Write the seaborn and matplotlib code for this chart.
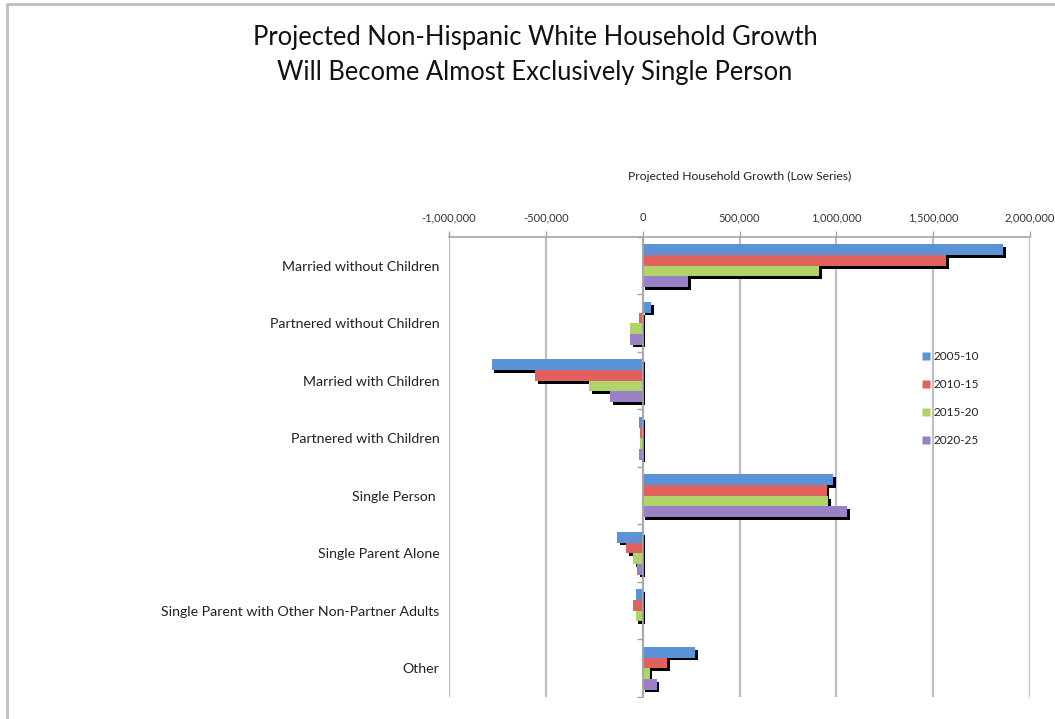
import matplotlib
matplotlib.use("Agg")
import matplotlib.pyplot as plt
import matplotlib.patheffects as pe
from matplotlib.ticker import FuncFormatter, FixedLocator
from matplotlib.lines import Line2D
import numpy as np
import pandas as pd
import seaborn as sns

# Household types (category axis, top to bottom)
categories = [
    "Married without Children",
    "Partnered without Children",
    "Married with Children",
    "Partnered with Children",
    "Single Person ",
    "Single Parent Alone",
    "Single Parent with Other Non-Partner Adults",
    "Other",
]

periods = ["2005-10", "2010-15", "2015-20", "2020-25"]

# Projected household growth by period (low series)
growth_2005_10 = [1860000, 45000, -780000, -20000, 985000, -130000, -36000, 270000]
growth_2010_15 = [1567000, -18000, -557000, -16000, 950000, -87000, -50000, 125000]
growth_2015_20 = [911000, -66000, -276000, -16000, 956000, -50000, -36000, 36000]
growth_2020_25 = [235000, -66000, -167000, -20000, 1054000, -30000, -4000, 72000]

period_colors = ["#5B93D6", "#E0615E", "#B0D46A", "#9A80C4"]

df = pd.DataFrame({
    "category": categories * 4,
    "period": np.repeat(periods, len(categories)),
    "growth": growth_2005_10 + growth_2010_15 + growth_2015_20 + growth_2020_25,
})

sns.set_theme(style="white")
plt.rcParams["font.family"] = ["Lato", "DejaVu Sans"]

fig = plt.figure(figsize=(10.55, 7.19), dpi=100)
ax = fig.add_axes([0.4256, 0.0306, 0.5507, 0.6398])

sns.barplot(
    data=df, y="category", x="growth", hue="period",
    order=categories, hue_order=periods, palette=period_colors,
    orient="h", width=0.74, saturation=1, ax=ax, legend=False,
)

# Drop shadow behind every bar
for patch in ax.patches:
    patch.set_edgecolor("none")
    patch.set_path_effects([
        pe.SimplePatchShadow(offset=(2.0, -2.0), shadow_rgbFace="black", alpha=1.0),
        pe.Normal(),
    ])

ax.set_xlim(-1000000, 2000000)
ax.set_ylim(len(categories) - 0.5, -0.5)

# Value axis on top
ax.xaxis.set_major_locator(FixedLocator(np.arange(-1000000, 2000001, 500000)))
ax.xaxis.set_major_formatter(FuncFormatter(lambda v, p: f"{int(v):,}"))
ax.xaxis.tick_top()
ax.xaxis.set_label_position("top")
ax.tick_params(axis="x", which="major", top=True, bottom=False, direction="out",
               length=4, width=1, color="#A6A6A6", labelsize=8, pad=6,
               labelcolor="#333333")
ax.set_xlabel("Projected Household Growth (Low Series)", fontsize=8.7,
              color="#222222", labelpad=23)
ax.set_ylabel("")

ax.grid(axis="x", color="#BFBFBF", linewidth=1.6)
ax.set_axisbelow(True)

# Category axis crossing at zero with boundary ticks
ax.spines["right"].set_position(("data", 0))
ax.spines["right"].set_color("#A6A6A6")
ax.spines["right"].set_linewidth(1.2)
ax.spines["left"].set_visible(False)
ax.spines["bottom"].set_visible(False)
ax.spines["top"].set_color("#A6A6A6")
ax.spines["top"].set_linewidth(1.2)
ax.yaxis.set_minor_locator(FixedLocator(np.arange(-0.5, len(categories), 1.0)))
ax.tick_params(axis="y", which="major", left=False, right=False, length=0,
               labelsize=10.2, labelcolor="#222222", pad=7)
ax.tick_params(axis="y", which="minor", left=False, right=True, direction="in",
               length=4, width=1, color="#A6A6A6")

handles = [Line2D([], [], marker="s", linestyle="none", markersize=6,
                  markerfacecolor=c, markeredgecolor="none") for c in period_colors]
fig.legend(handles, periods, loc="upper left", bbox_to_anchor=(0.864, 0.527),
           frameon=False, fontsize=8.5, handlelength=0.6, handletextpad=0.4,
           labelspacing=1.45, labelcolor="#222222")

fig.text(0.507, 0.924, "Projected Non-Hispanic White Household Growth\nWill Become Almost Exclusively Single Person",
         ha="center", va="center", fontsize=18.4, color="#111111", linespacing=1.5)

# Chart frame (top and left edges)
fig.add_artist(Line2D([0.0066, 0.0066], [0.0, 0.9945], transform=fig.transFigure,
                      color="#BFBFBF", linewidth=2))
fig.add_artist(Line2D([0.0066, 1.0], [0.9945, 0.9945], transform=fig.transFigure,
                      color="#BFBFBF", linewidth=2))

fig.savefig("out.png", dpi=100, facecolor="white")
